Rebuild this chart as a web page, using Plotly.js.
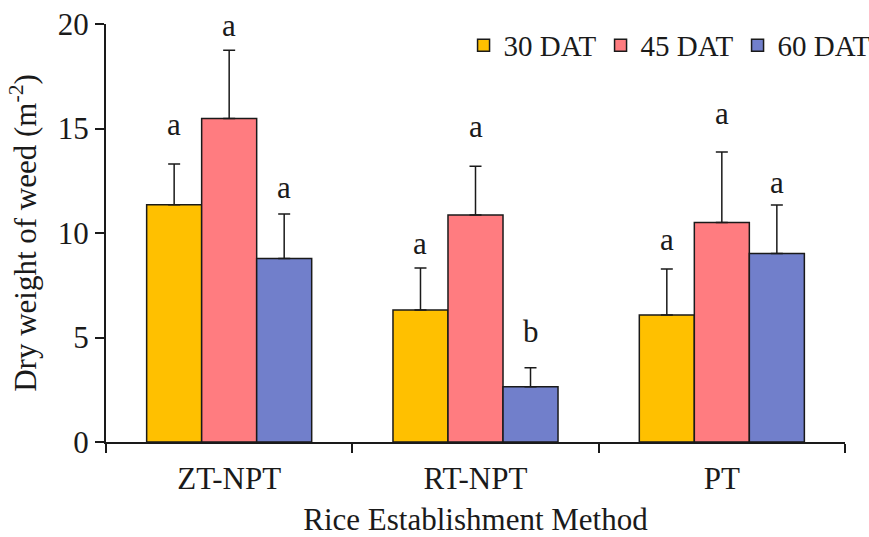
<!DOCTYPE html>
<html>
<head>
<meta charset="utf-8">
<script src="https://cdn.plot.ly/plotly-3.0.1.min.js"></script>
<style>html,body{margin:0;padding:0;background:#fff;}#chart{width:869px;height:537px;}</style>
</head>
<body>
<div id="chart"></div>
<script>
const categories = ['ZT-NPT', 'RT-NPT', 'PT'];
const seriesNames = ['30 DAT', '45 DAT', '60 DAT'];
const dat30 = [11.35, 6.32, 6.08];
const dat45 = [15.48, 10.86, 10.50];
const dat60 = [8.78, 2.64, 9.02];
const err30 = [1.95, 2.00, 2.20];
const err45 = [3.26, 2.33, 3.38];
const err60 = [2.13, 0.91, 2.32];
const letters30 = ['a', 'a', 'a'];
const letters45 = ['a', 'a', 'a'];
const letters60 = ['a', 'b', 'a'];

const colors = ['#FFC000', '#FF7C80', '#717FCB'];
const values = [dat30, dat45, dat60];
const errs = [err30, err45, err60];
const letters = [letters30, letters45, letters60];
// pixel gap between error cap and letter baseline (as drawn in the reference)
const letterGap = [[27, 12, 17], [12, 27, 26], [14, 24, 10]];

const font = '"Liberation Serif", "Times New Roman", Times, serif';
const fs = 31;
const bargap = 0.33;

const traces = values.map((v, i) => ({
  type: 'bar',
  name: seriesNames[i],
  x: categories,
  y: v,
  marker: {color: colors[i], line: {color: '#1a1a1a', width: 1.5}},
  error_y: {type: 'data', symmetric: false, array: errs[i], arrayminus: v.map(() => 0),
            color: '#1a1a1a', thickness: 1.5, width: 6}
}));

const annotations = [];
const barW = (1 - bargap) / 3;
for (let i = 0; i < 3; i++) {
  for (let c = 0; c < categories.length; c++) {
    annotations.push({
      xref: 'x', yref: 'y',
      x: c + (i - 1) * barW,
      y: values[i][c] + errs[i][c],
      text: letters[i][c],
      showarrow: false,
      yanchor: 'bottom',
      yshift: letterGap[i][c] - 7,
      font: {family: font, size: fs, color: '#1a1a1a'}
    });
  }
}

const layout = {
  width: 869, height: 537,
  margin: {l: 106, r: 24, t: 24, b: 95, autoexpand: false},
  paper_bgcolor: '#fff', plot_bgcolor: '#fff',
  barmode: 'group', bargap: bargap, bargroupgap: 0,
  font: {family: font, size: fs, color: '#1a1a1a'},
  showlegend: true,
  legend: {orientation: 'h', x: 1.04, xanchor: 'right', y: 1.01, yanchor: 'top',
           font: {family: font, size: 29, color: '#1a1a1a'}, bgcolor: 'rgba(0,0,0,0)',
           itemwidth: 30, tracegroupgap: 0, entrywidth: 92, entrywidthmode: 'pixels'},
  xaxis: {
    type: 'category', range: [-0.5, 2.5],
    showline: true, linecolor: '#1a1a1a', linewidth: 2,
    ticks: 'outside', ticklen: 9, tickwidth: 2, tickcolor: '#1a1a1a',
    tickson: 'boundaries', showgrid: false, zeroline: false,
    ticklabelstandoff: 8,
    tickfont: {family: font, size: fs, color: '#1a1a1a'},
    title: {text: 'Rice Establishment Method', font: {family: font, size: fs, color: '#1a1a1a'}, standoff: 14}
  },
  yaxis: {
    range: [0, 20], dtick: 5, tick0: 0,
    showline: true, linecolor: '#1a1a1a', linewidth: 2,
    ticks: 'outside', ticklen: 9, tickwidth: 2, tickcolor: '#1a1a1a',
    showgrid: false, zeroline: false,
    tickfont: {family: font, size: fs, color: '#1a1a1a'},
    title: {text: 'Dry weight of weed (m<sup>-2</sup>)', font: {family: font, size: fs, color: '#1a1a1a'}, standoff: 12}
  },
  annotations: annotations
};

Plotly.newPlot('chart', traces, layout, {displayModeBar: false, staticPlot: true});
</script>
</body>
</html>
